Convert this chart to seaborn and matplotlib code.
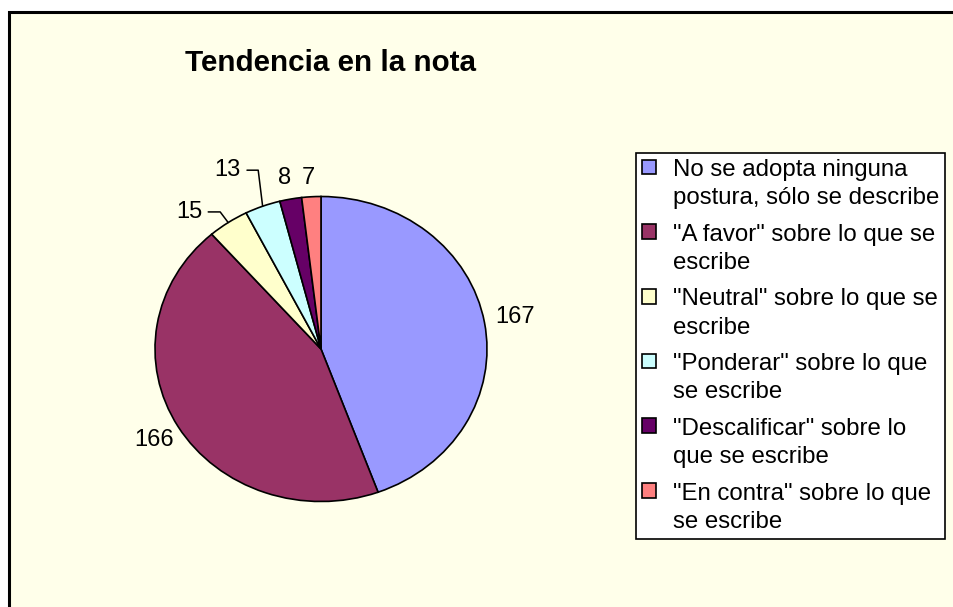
import numpy as np
import matplotlib
matplotlib.use("Agg")
import matplotlib.pyplot as plt
import seaborn as sns
from matplotlib.patches import Rectangle
from matplotlib.legend_handler import HandlerPatch

# ------------------------------
# Data
# ------------------------------
categorias = [
    "No se adopta ninguna\npostura, sólo se describe",
    "\"A favor\" sobre lo que se\nescribe",
    "\"Neutral\" sobre lo que se\nescribe",
    "\"Ponderar\" sobre lo que\nse escribe",
    "\"Descalificar\" sobre lo\nque se escribe",
    "\"En contra\" sobre lo que\nse escribe",
]
valores = [167, 166, 15, 13, 8, 7]
colores = ["#9999FF", "#993366", "#FFFFCC", "#CCFFFF", "#660066", "#FF8080"]
titulo = "Tendencia en la nota"

# label placement (radius factor, angle shift in deg, leader angle or None)
lab_r = [1.19, 1.17, 1.20, 1.30, 1.14, 1.125]
lab_shift = [0, 0, 7.5, 5.0, 0.7, 0.6]
leader = [None, None, 127, 97, None, None]

sns.set_theme(style="white")
plt.rcParams["font.family"] = ["Liberation Sans", "DejaVu Sans"]
plt.rcParams["text.color"] = "black"

fondo = "#FFFFEA"
fig = plt.figure(figsize=(9.54, 6.07), dpi=100)
fig.patch.set_facecolor("white")

# chart area frame
marco = Rectangle((9 / 954, -0.1), 1.2, 1 + 0.1 - 12 / 607, transform=fig.transFigure,
                  facecolor=fondo, edgecolor="black", lw=2.2, zorder=-5)
fig.add_artist(marco)

W, H = 954, 607
cx, cy, rx, ry = 321, 349, 166, 152.5
ax = fig.add_axes([(cx - rx) / W, (H - cy - ry) / H, 2 * rx / W, 2 * ry / H])
ax.set_facecolor("none")
ax.set_zorder(2)

wedges, _ = ax.pie(valores, colors=colores, startangle=90, counterclock=False,
                   radius=1, wedgeprops=dict(edgecolor="black", linewidth=1.2))
ax.set_xlim(-1, 1)
ax.set_ylim(-1, 1)
ax.set_aspect("auto")
ax.axis("off")

for w, v, r, s, ang in zip(wedges, valores, lab_r, lab_shift, leader):
    mid = np.deg2rad((w.theta1 + w.theta2) / 2)
    tx = r * np.cos(mid + np.deg2rad(s))
    ty = r * np.sin(mid + np.deg2rad(s))
    if ang is None:
        ax.text(tx, ty, str(v), ha="center", va="center", fontsize=17)
    else:
        ax.annotate(str(v), xy=(np.cos(mid), np.sin(mid)), xytext=(tx, ty),
                    ha="center", va="center", fontsize=17,
                    arrowprops=dict(arrowstyle="-", lw=1.1, color="black",
                                    shrinkA=2, shrinkB=0,
                                    connectionstyle=f"angle,angleA=0,angleB={ang},rad=0"))

fig.text(331 / W, 1 - 63 / H, titulo, ha="center", va="center",
         fontsize=21.3, fontweight="bold")


def caja(legend, orig_handle, xdescent, ydescent, width, height, fontsize):
    # align the square with the first line of a two-line label
    return Rectangle((-xdescent, -ydescent + fontsize * 0.72), height, height)


leg = fig.legend(wedges, categorias, loc="upper left",
                 bbox_to_anchor=(636 / W, 1 - 153 / H), fontsize=17.3,
                 frameon=True, fancybox=False, edgecolor="black",
                 facecolor="white", framealpha=1, handlelength=0.55,
                 handleheight=0.55, handletextpad=0.72, labelspacing=0.6,
                 borderpad=0.25, borderaxespad=0,
                 handler_map={w: HandlerPatch(patch_func=caja) for w in wedges})
leg.get_frame().set_linewidth(1.2)
leg.set_zorder(3)
for t in leg.get_texts():
    t.set_linespacing(1.37)
    t.set_color("black")

fig.savefig("out.png", dpi=100, facecolor="white")
